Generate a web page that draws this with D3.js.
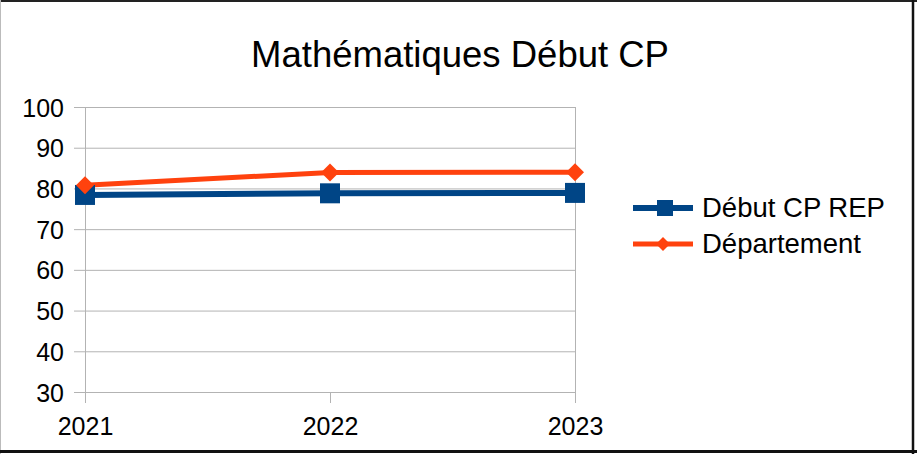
<!DOCTYPE html>
<html>
<head>
<meta charset="utf-8">
<script src="https://cdn.jsdelivr.net/npm/d3@7"></script>
<style>
  html, body { margin: 0; padding: 0; background: #fff; }
  svg { display: block; font-family: "Liberation Sans", Arial, sans-serif; }
  .axis text { fill: #000; font-size: 25px; }
  .axis path { display: none; }
  .grid line { stroke: #b3b3b3; stroke-width: 1; }
</style>
</head>
<body>
<div id="chart"></div>
<script>
// values
let years = ["2021", "2022", "2023"];
let repValues = [78.4, 78.8, 78.9];
let deptValues = [80.8, 83.9, 84.0];
let seriesNames = ["Début CP REP", "Département"];
let yTicks = [30, 40, 50, 60, 70, 80, 90, 100];

let W = 917, H = 454;
let margin = { left: 85, right: 342, top: 107, bottom: 62 };
let width = W - margin.left - margin.right;
let height = H - margin.top - margin.bottom;

let svg = d3.select("#chart").append("svg")
    .attr("width", W)
    .attr("height", H);

// frame
svg.append("rect").attr("x", 0).attr("y", 0).attr("width", W).attr("height", H).attr("fill", "#fff");
svg.append("line").attr("x1", 0).attr("x2", W).attr("y1", 1).attr("y2", 1).attr("stroke", "#222").attr("stroke-width", 2);
svg.append("line").attr("x1", 0.5).attr("x2", 0.5).attr("y1", 0).attr("y2", H).attr("stroke", "#bbb").attr("stroke-width", 1);
svg.append("line").attr("x1", 913).attr("x2", 913).attr("y1", 0).attr("y2", H).attr("stroke", "#111").attr("stroke-width", 2.5);
svg.append("line").attr("x1", 0).attr("x2", W).attr("y1", 451.5).attr("y2", 451.5).attr("stroke", "#111").attr("stroke-width", 3);

svg.append("text")
    .attr("x", 460)
    .attr("y", 67)
    .attr("text-anchor", "middle")
    .attr("font-size", "36.5px")
    .attr("fill", "#000")
    .text("Mathématiques Début CP");

let plot = svg.append("g")
    .attr("transform", `translate(${margin.left},${margin.top})`);

let xScale = d3.scalePoint().domain(years).range([0, width]);
let yScale = d3.scaleLinear().domain([30, 100]).range([height, 0]);

// horizontal gridlines
plot.append("g")
    .attr("class", "grid")
    .call(d3.axisLeft(yScale).tickValues(yTicks).tickSize(-width).tickFormat(""))
    .call(g => g.select(".domain").remove());

// left and right edges of the plot area
plot.append("g")
    .attr("class", "grid")
    .selectAll("line")
    .data([years[0], years[years.length - 1]])
    .enter().append("line")
    .attr("x1", d => xScale(d) + 0.5).attr("x2", d => xScale(d) + 0.5)
    .attr("y1", 0).attr("y2", height);

// y axis
let yAxis = plot.append("g")
    .attr("class", "axis")
    .call(d3.axisLeft(yScale).tickValues(yTicks).tickSize(11).tickPadding(10));
yAxis.selectAll(".tick line").attr("stroke", "#b3b3b3");
yAxis.selectAll("text").attr("dy", "0.36em");

// x axis
let xAxis = plot.append("g")
    .attr("class", "axis")
    .attr("transform", `translate(0,${height})`)
    .call(d3.axisBottom(xScale).tickSize(11).tickPadding(14));
xAxis.selectAll(".tick line").attr("stroke", "#b3b3b3");
xAxis.selectAll("text").attr("dy", "0.71em");

let line = d3.line()
    .x((d, i) => xScale(years[i]))
    .y(d => yScale(d));

// Département
plot.append("path")
    .datum(deptValues)
    .attr("fill", "none")
    .attr("stroke", "#ff420e")
    .attr("stroke-width", 5)
    .attr("d", line);

// REP
plot.append("path")
    .datum(repValues)
    .attr("fill", "none")
    .attr("stroke", "#004586")
    .attr("stroke-width", 6)
    .attr("d", line);

plot.selectAll(".sq")
    .data(repValues)
    .enter().append("rect")
    .attr("class", "sq")
    .attr("x", (d, i) => xScale(years[i]) - 10)
    .attr("y", d => yScale(d) - 10)
    .attr("width", 20)
    .attr("height", 20)
    .attr("fill", "#004586");

plot.selectAll(".dia")
    .data(deptValues)
    .enter().append("path")
    .attr("class", "dia")
    .attr("d", (d, i) => {
        let x = xScale(years[i]), y = yScale(d);
        return `M${x},${y - 9}L${x + 9},${y}L${x},${y + 9}L${x - 9},${y}Z`;
    })
    .attr("fill", "#ff420e");

// legend
let legend = svg.append("g").attr("transform", "translate(633,208)");
let colors = ["#004586", "#ff420e"];
seriesNames.forEach((name, i) => {
    let g = legend.append("g").attr("transform", `translate(0,${i * 36})`);
    g.append("line")
        .attr("x1", 0).attr("x2", 60)
        .attr("y1", 0).attr("y2", 0)
        .attr("stroke", colors[i])
        .attr("stroke-width", i === 0 ? 6 : 5);
    if (i === 0) {
        g.append("rect").attr("x", 24).attr("y", -8).attr("width", 16).attr("height", 16).attr("fill", colors[i]);
    } else {
        g.append("path").attr("d", "M30,-7L37,0L30,7L23,0Z").attr("fill", colors[i]);
    }
    g.append("text")
        .attr("x", 69)
        .attr("y", 9)
        .attr("font-size", "27.5px")
        .attr("fill", "#000")
        .text(name);
});
</script>
</body>
</html>
